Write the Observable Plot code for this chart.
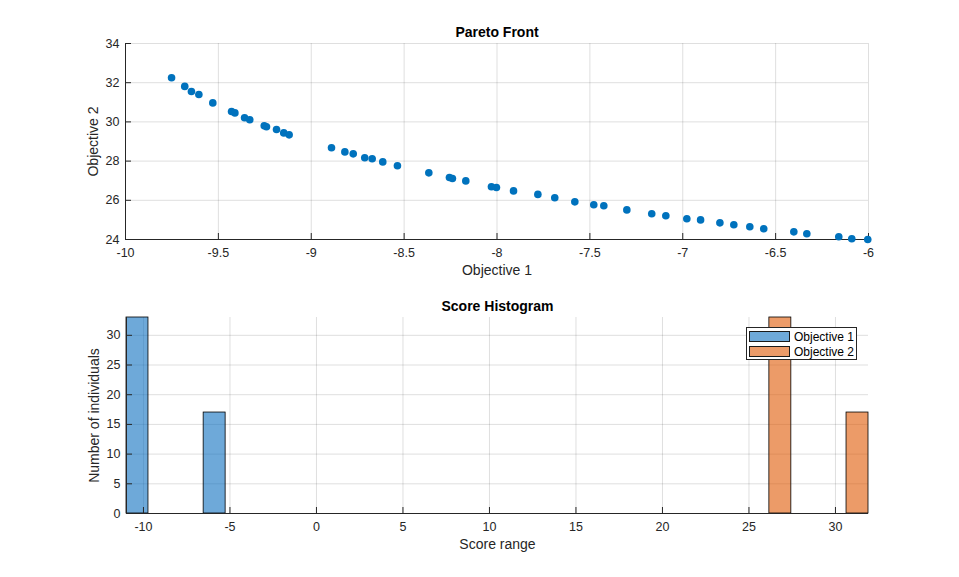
<!DOCTYPE html>
<html><head><meta charset="utf-8">
<script src="https://cdn.jsdelivr.net/npm/d3@7"></script>
<script src="https://cdn.jsdelivr.net/npm/@observablehq/plot@0.6"></script>
<style>
body{margin:0;background:#fff;}
#wrap{position:relative;width:959px;height:577px;background:#fff;font-family:"Liberation Sans",Arial,sans-serif;color:#262626;}
#wrap svg{display:block;overflow:visible;}
.legend{position:absolute;left:746px;top:327px;width:109px;height:31px;border:1px solid #262626;background:#fff;font-size:12px;color:#000;}
.legend .row{position:absolute;left:2px;height:11px;display:flex;align-items:center;}
.legend .sw{width:39px;height:9px;border:1px solid #1a1a1a;margin-right:4px;}
</style></head><body><div id="wrap"></div>
<script>
// Pareto front points
const objective1 = [-9.752,-9.681,-9.645,-9.605,-9.530,-9.429,-9.411,-9.359,-9.331,-9.253,-9.241,-9.187,-9.148,-9.119,
  -8.891,-8.819,-8.774,-8.712,-8.672,-8.615,-8.536,-8.367,-8.256,-8.240,-8.168,-8.030,-8.003,
  -7.911,-7.780,-7.689,-7.581,-7.479,-7.425,-7.301,-7.167,-7.091,-6.978,-6.904,-6.800,-6.725,-6.639,-6.564,
  -6.402,-6.332,-6.160,-6.090,-6.004];
const objective2 = [32.25,31.81,31.55,31.40,30.97,30.53,30.46,30.21,30.11,29.80,29.75,29.61,29.44,29.34,
  28.68,28.47,28.37,28.17,28.12,27.96,27.76,27.40,27.16,27.11,26.99,26.69,26.65,
  26.48,26.30,26.13,25.92,25.77,25.72,25.51,25.31,25.21,25.06,25.00,24.85,24.75,24.65,24.55,
  24.39,24.29,24.14,24.04,24.00];
// Score histogram bins
const histSeries = ["Objective 1","Objective 1","Objective 2","Objective 2"];
const binStart = [-10.98,-6.52,26.18,30.64];
const binEnd   = [-9.71,-5.25,27.45,31.91];
const binCount = [33,17,33,17];
// Axis ticks
const paretoXTicks = [-10,-9.5,-9,-8.5,-8,-7.5,-7,-6.5,-6];
const paretoYTicks = [24,26,28,30,32,34];
const histXTicks = [-10,-5,0,5,10,15,20,25,30];
const histYTicks = [0,5,10,15,20,25,30];
const seriesNames = ["Objective 1","Objective 2"];
const seriesColors = ["#0d6fc0","#e05804"];

const points = objective1.map((x,i)=>({x, y: objective2[i]}));
const bins = binStart.map((s,i)=>({series: histSeries[i], x1: s, x2: binEnd[i], count: binCount[i]}));

const FONT = "Liberation Sans, Arial, sans-serif";
const fmt = d => String(d);
const gridStyle = {stroke:"#262626", strokeOpacity:0.15};

function axes(xT, yT, x0, y0, xl, yl, title){
  return [
    Plot.gridX({ticks: xT, ...gridStyle}),
    Plot.gridY({ticks: yT, ...gridStyle}),
    Plot.axisX({ticks: xT, tickSize: 0, tickPadding: 9, tickFormat: fmt, label: null, fontSize: 12.5}),
    Plot.axisY({ticks: yT, tickSize: 0, tickPadding: 6, tickFormat: fmt, label: null, fontSize: 12.5}),
    Plot.axisX({ticks: xT, tickSize: 6, dy: -6, tickFormat: () => "", label: null, stroke:"#262626"}),
    Plot.axisY({ticks: yT, tickSize: 6, dx: 6, tickFormat: () => "", label: null, stroke:"#262626"}),
    Plot.ruleY([y0], {stroke:"#262626"}),
    Plot.ruleX([x0], {stroke:"#262626"}),
    Plot.text([xl], {text: d=>d, frameAnchor:"bottom", dy: 35, fontSize: 14, fill:"#262626"}),
    Plot.text([yl], {text: d=>d, frameAnchor:"left", textAnchor:"middle", dx: -32, rotate: -90, fontSize: 14, fill:"#262626"}),
    Plot.text([title], {text: d=>d, frameAnchor:"top", dy: -7, lineAnchor:"bottom", fontSize: 14, fontWeight:"bold", fill:"#000"})
  ];
}

const topChart = Plot.plot({
  width: 959, height: 288,
  marginTop: 43, marginBottom: 49, marginLeft: 125, marginRight: 91,
  style: {fontFamily: FONT, fontSize: "12.5px", color: "#262626", background: "transparent", overflow: "visible"},
  x: {domain: [-10,-6]},
  y: {domain: [24,34]},
  marks: [
    ...axes(paretoXTicks, paretoYTicks, -10, 24, "Objective 1", "Objective 2", "Pareto Front"),
    Plot.dot(points, {x:"x", y:"y", r: 3.8, fill: "#0072BD", stroke: "none"})
  ]
});

const bottomChart = Plot.plot({
  width: 959, height: 289,
  marginTop: 29, marginBottom: 64, marginLeft: 126, marginRight: 91,
  style: {fontFamily: FONT, fontSize: "12.5px", color: "#262626", background: "transparent", overflow: "visible"},
  x: {domain: [d3.min(binStart), d3.max(binEnd)]},
  y: {domain: [0, d3.max(binCount)]},
  color: {domain: seriesNames, range: seriesColors},
  marks: [
    Plot.gridX({ticks: histXTicks, ...gridStyle}),
    Plot.gridY({ticks: histYTicks, ...gridStyle}),
    Plot.rectY(bins, {x1:"x1", x2:"x2", y:"count", fill:"series", fillOpacity:0.6, stroke:"#000", strokeWidth:0.8}),
    ...axes(histXTicks, histYTicks, d3.min(binStart), 0, "Score range", "Number of individuals", "Score Histogram").slice(2)
  ]
});

const wrap = document.getElementById("wrap");
wrap.appendChild(topChart);
wrap.appendChild(bottomChart);

const leg = document.createElement("div");
leg.className = "legend";
seriesNames.forEach((name,i)=>{
  const row = document.createElement("div");
  row.className = "row";
  row.style.top = (3 + i*15) + "px";
  const sw = document.createElement("div");
  sw.className = "sw";
  sw.style.backgroundColor = d3.interpolateRgb("#ffffff", seriesColors[i])(0.6);
  const t = document.createElement("span");
  t.textContent = name;
  row.appendChild(sw); row.appendChild(t);
  leg.appendChild(row);
});
wrap.appendChild(leg);
</script>
</body></html>
